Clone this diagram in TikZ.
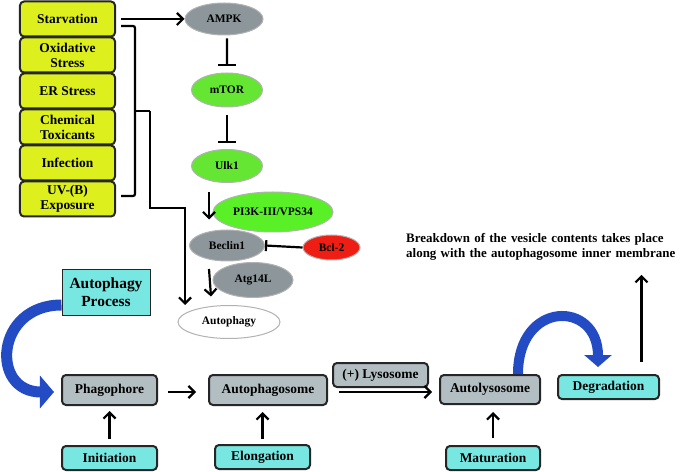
\documentclass[tikz,border=0pt]{standalone}
\usepackage{fontspec}
\setmainfont{Liberation Serif}
\definecolor{causeyellow}{RGB}{221,240,30}
\definecolor{siggray}{RGB}{140,150,155}
\definecolor{siggreen}{RGB}{100,230,50}
\definecolor{pigreen}{RGB}{90,240,40}
\definecolor{bclred}{RGB}{238,30,20}
\definecolor{stagegray}{RGB}{178,190,194}
\definecolor{phasecyan}{RGB}{120,230,225}
\definecolor{arcblue}{RGB}{35,75,195}
\usetikzlibrary{arrows.meta, positioning, calc, shapes.geometric}

\begin{document}
\begin{tikzpicture}[
    x=1bp, y=-1bp,
    cause/.style={draw=black!85, line width=2bp, rounded corners=4bp, fill=causeyellow, minimum width=95bp, minimum height=35bp, inner sep=1bp, align=center, font=\fontsize{13.5}{15}\selectfont\bfseries},
    sig/.style={ellipse, draw=gray!60, line width=1bp, inner sep=0pt, font=\fontsize{11.5}{13}\selectfont\bfseries},
    stage/.style={draw=black!85, line width=2bp, rounded corners=4bp, fill=stagegray, inner sep=1bp, font=\fontsize{13.5}{15}\selectfont\bfseries},
    phase/.style={stage, fill=phasecyan},
    act/.style={line width=2.2bp, -{Straight Barb[length=6bp,width=12bp]}},
    inh/.style={line width=2.2bp, -{Bar[width=18bp]}},
    bluearc/.style={arcblue, line width=11bp}
]
  \useasboundingbox (0,0) rectangle (695,472);

  % stress inputs
  \node[cause] (starv) at (67.5,19) {Starvation};
  \node[cause] (oxid) at (67.5,55) {Oxidative\\Stress};
  \node[cause] (er) at (67.5,91) {ER Stress};
  \node[cause] (chem) at (67.5,127) {Chemical\\Toxicants};
  \node[cause] (infect) at (67.5,163) {Infection};
  \node[cause] (uvb) at (67.5,199) {UV-(B)\\Exposure};

  % signalling cascade
  \node[sig, fill=siggray, minimum width=78bp, minimum height=32bp] (ampk) at (224,19) {AMPK};
  \node[sig, fill=siggreen, minimum width=71bp, minimum height=34bp] (mtor) at (227,90) {mTOR};
  \node[sig, fill=siggreen, minimum width=71bp, minimum height=33bp] (ulk) at (227,166) {Ulk1};
  \node[sig, fill=pigreen, minimum width=120bp, minimum height=40bp] (pik) at (273,212) {PI3K-III/VPS34};
  \node[sig, fill=siggray, minimum width=75bp, minimum height=31bp] (beclin) at (227,245.5) {Beclin1};
  \node[sig, fill=bclred, minimum width=57bp, minimum height=25bp] (bcl) at (331.5,247.5) {Bcl-2};
  \node[sig, fill=siggray, minimum width=80bp, minimum height=35bp] (atg) at (253,280) {Atg14L};
  \node[sig, fill=white, minimum width=102bp, minimum height=33bp] (auto) at (229,322) {Autophagy};

  \draw[act] ([xshift=5bp]starv.east) -- (ampk.west);
  \draw[line width=2.2bp, rounded corners=2bp] ([xshift=5bp,yshift=-7bp]starv.east) -| (135,111) |- ([xshift=5bp,yshift=3bp]uvb.east);
  \coordinate (bracetip) at (150,111);
  \coordinate (drop) at (185,208);
  \draw[line width=2.2bp] (135,111) -- (bracetip);
  \draw[act] (bracetip) |- (drop) -- (drop |- auto.north);

  \draw[inh, shorten <=3bp, shorten >=6bp] ([xshift=3bp]ampk.south) -- ([xshift=0bp]mtor.north);
  \draw[inh, shorten <=8bp, shorten >=6bp] (mtor.south) -- (ulk.north);
  \draw[act] ([xshift=-18bp,yshift=-9bp]ulk.south) -- ([xshift=-18bp,yshift=10bp]beclin.north);
  \draw[act] ([xshift=-18bp,yshift=-7.5bp]beclin.south) -- ([xshift=-18bp,yshift=8.5bp]auto.north);
  \draw[line width=2.2bp, -{Bar[width=11bp]}] (bcl.west) -- (beclin.east);

  % process stages
  \node[phase, rounded corners=0pt, line width=1bp, minimum width=88bp, minimum height=45bp, align=center, font=\fontsize{15.5}{18}\selectfont\bfseries] (proc) at (106,292.5) {Autophagy\\Process};
  \node[stage, minimum width=95bp, minimum height=30bp] (phago) at (109.5,390) {Phagophore};
  \node[stage, minimum width=118bp, minimum height=30bp] (autosome) at (268,390) {Autophagosome};
  \node[stage, minimum width=95bp, minimum height=24bp] (lyso) at (380.5,375) {(+) Lysosome};
  \node[stage, minimum width=100bp, minimum height=29bp] (autolys) at (490,389.5) {Autolysosome};
  \node[phase, minimum width=101bp, minimum height=24bp] (degr) at (608.5,387) {Degradation};
  \node[phase, minimum width=95bp, minimum height=24bp] (init) at (109.5,458) {Initiation};
  \node[phase, minimum width=95bp, minimum height=24bp] (elong) at (262.5,457) {Elongation};
  \node[phase, minimum width=94bp, minimum height=24bp] (matur) at (493,458) {Maturation};
  \node[anchor=north west, inner sep=0pt, text width=287bp, align=left, font=\fontsize{13}{15.5}\selectfont\bfseries] (breakdown) at (406,233)
    {\makebox[287bp][s]{Breakdown of the vesicle contents takes place}\\along with the autophagosome inner membrane};

  \draw[act, shorten <=10bp, shorten >=12bp] ([yshift=-2bp]phago.east) -- ([yshift=-2bp]autosome.west);
  \draw[act, shorten <=11bp, shorten >=7bp] ([yshift=-2bp]autosome.east) -- ([yshift=-2.5bp]autolys.west);
  \draw[act, shorten <=6bp, shorten >=5bp] (init.north) -- (phago.south);
  \draw[act, shorten <=5bp, shorten >=6bp] (elong.north) -- (elong.north |- autosome.south);
  \draw[act, shorten <=7bp, shorten >=7bp] (matur.north) -- (matur.north |- autolys.south);
  \coordinate (risefoot) at ([xshift=33bp,yshift=12bp]degr.north);
  \draw[act, shorten >=14bp] (risefoot) -- (risefoot |- breakdown.south);

  % blue curved arrows
  \draw[bluearc, -{Triangle[width=32bp,length=14bp]}] ([yshift=-12.5bp]proc.west) .. controls (-5,305) and (-10,392) .. ([xshift=-7bp,yshift=-2bp]phago.west);
  \draw[bluearc, line width=10bp, -{Triangle[width=27bp,length=12bp]}] ([xshift=28bp]autolys.north) .. controls (518,300) and (598,300) .. ([xshift=-10.5bp,yshift=7bp]degr.north);
\end{tikzpicture}
\end{document}
